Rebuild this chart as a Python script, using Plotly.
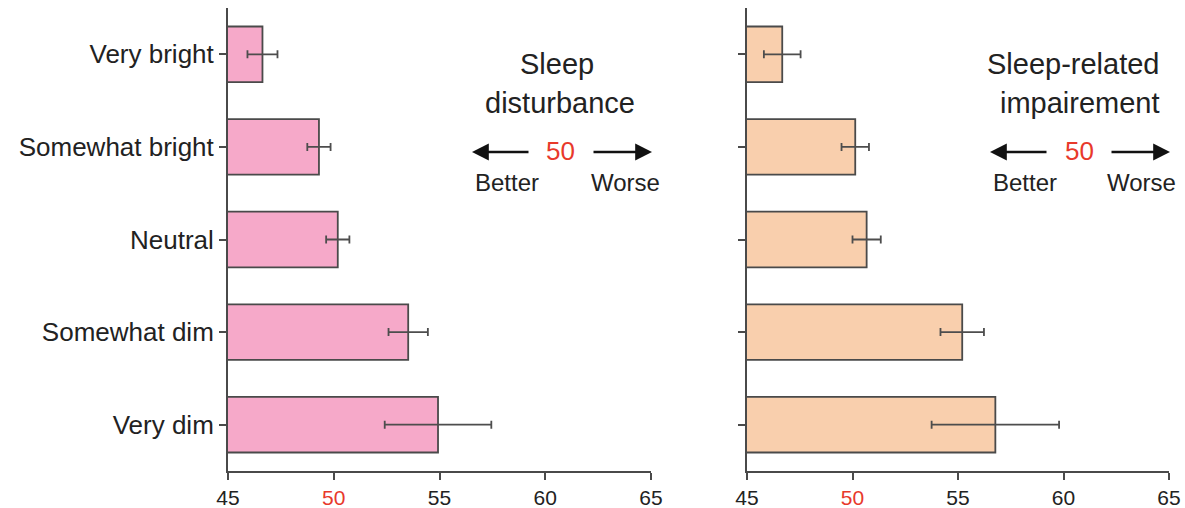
import plotly.graph_objects as go

categories = ["Very bright", "Somewhat bright", "Neutral", "Somewhat dim", "Very dim"]
disturbance = [46.63, 49.30, 50.19, 53.52, 54.93]
disturbance_err = [0.71, 0.55, 0.55, 0.93, 2.52]
impairment = [46.67, 50.13, 50.67, 55.20, 56.77]
impairment_err = [0.87, 0.65, 0.67, 1.03, 3.02]
x_ticks = [45, 50, 55, 60, 65]
x_ticktext = ["45", "<span style='color:#e8392b'>50</span>", "55", "60", "65"]

W, H = 1185, 508
FONT = "Liberation Sans, Arial, Helvetica, sans-serif"
AX = "#4a4a4a"

fig = go.Figure()
fig.add_trace(go.Bar(
    y=categories, x=disturbance, orientation="h", width=0.6,
    marker=dict(color="#f6a9c9", line=dict(color="#4a4a4a", width=1.8)),
    error_x=dict(type="data", array=disturbance_err, color="#4d4d4d", thickness=1.8, width=4),
    xaxis="x", yaxis="y", showlegend=False))
fig.add_trace(go.Bar(
    y=categories, x=impairment, orientation="h", width=0.6,
    marker=dict(color="#f9cfad", line=dict(color="#4a4a4a", width=1.8)),
    error_x=dict(type="data", array=impairment_err, color="#4d4d4d", thickness=1.8, width=4),
    xaxis="x2", yaxis="y2", showlegend=False))

def px(x):
    return x / W

def py(y):
    return 1 - y / H

xcommon = dict(range=[45, 65], tickvals=x_ticks, ticktext=x_ticktext, showline=True,
               linecolor=AX, linewidth=2, ticks="outside", ticklen=7, tickwidth=2,
               tickcolor=AX, showgrid=False, zeroline=False, automargin=False,
               tickfont=dict(family=FONT, size=21, color="#222222"), fixedrange=True)
ycommon = dict(categoryorder="array", categoryarray=categories, autorange=False,
               range=[4.5, -0.5], showline=True, linecolor=AX, linewidth=2,
               ticks="outside", ticklen=7, tickwidth=2, tickcolor=AX, showgrid=False,
               zeroline=False, automargin=False,
               tickfont=dict(family=FONT, size=26, color="#222222"))

fig.update_layout(
    width=W, height=H, margin=dict(l=0, r=0, t=0, b=0, autoexpand=False),
    paper_bgcolor="white", plot_bgcolor="white", bargap=0.4,
    xaxis=dict(domain=[px(228), px(651)], anchor="y", **xcommon),
    yaxis=dict(domain=[py(471), py(8)], anchor="x", **ycommon),
    xaxis2=dict(domain=[px(747), px(1169)], anchor="y2", **xcommon),
    yaxis2=dict(domain=[py(471), py(8)], anchor="x2", showticklabels=False, **ycommon),
)

texts = [
    ("Sleep", 557, 64, 29, "#222222"),
    ("disturbance", 560, 103, 29, "#222222"),
    ("50", 560, 151, 26, "#e8392b"),
    ("Better", 507, 182, 24, "#222222"),
    ("Worse", 625, 182, 24, "#222222"),
    ("Sleep-related", 1073, 64, 29, "#222222"),
    ("impairement", 1080, 103, 29, "#222222"),
    ("50", 1079, 151, 26, "#e8392b"),
    ("Better", 1025, 182, 24, "#222222"),
    ("Worse", 1141, 182, 24, "#222222"),
]
for t, x, y, s, c in texts:
    fig.add_annotation(text=t, x=px(x), y=py(y), xref="paper", yref="paper",
                       xanchor="center", yanchor="middle", showarrow=False,
                       font=dict(family=FONT, size=s, color=c))

arrows = [(472, 530), (652, 592), (990, 1048), (1170, 1110)]
for tip, tail in arrows:
    fig.add_annotation(text="", x=px(tip), y=py(152), xref="paper", yref="paper",
                       ax=tail - tip, ay=0, showarrow=True, arrowhead=2,
                       arrowsize=1.4, arrowwidth=2.4, arrowcolor="#111111")

fig.write_html("out.html")
